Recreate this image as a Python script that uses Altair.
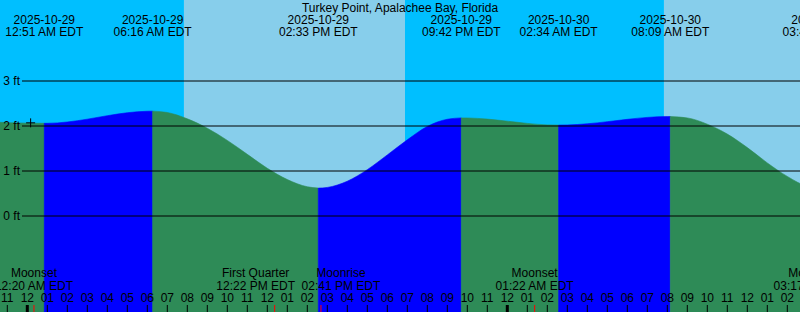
import altair as alt
import pandas as pd

TITLE = "Turkey Point, Apalachee Bay, Florida"
FONT = "Liberation Sans"
W, H = 800, 312
PH = 305  # plot height; hour ticks hang below it

# Tide extremes (local EDT wall-clock) and levels in feet
tide_times = ["2025-10-28 19:30", "2025-10-29 00:51", "2025-10-29 06:16", "2025-10-29 14:33",
              "2025-10-29 21:42", "2025-10-30 02:34", "2025-10-30 08:09", "2025-10-30 15:44"]
tide_levels = [2.14, 2.06, 2.33, 0.62, 2.18, 2.02, 2.21, 0.62]

# Curve heights, every hour
curve_times = ["2025-10-28 20:00", "2025-10-28 21:00", "2025-10-28 22:00", "2025-10-28 23:00",
               "2025-10-29 00:00", "2025-10-29 01:00", "2025-10-29 02:00", "2025-10-29 03:00",
               "2025-10-29 04:00", "2025-10-29 05:00", "2025-10-29 06:00", "2025-10-29 07:00",
               "2025-10-29 08:00", "2025-10-29 09:00", "2025-10-29 10:00", "2025-10-29 11:00",
               "2025-10-29 12:00", "2025-10-29 13:00", "2025-10-29 14:00", "2025-10-29 15:00",
               "2025-10-29 16:00", "2025-10-29 17:00", "2025-10-29 18:00", "2025-10-29 19:00",
               "2025-10-29 20:00", "2025-10-29 21:00", "2025-10-29 22:00", "2025-10-29 23:00",
               "2025-10-30 00:00", "2025-10-30 01:00", "2025-10-30 02:00", "2025-10-30 03:00",
               "2025-10-30 04:00", "2025-10-30 05:00", "2025-10-30 06:00", "2025-10-30 07:00",
               "2025-10-30 08:00", "2025-10-30 09:00", "2025-10-30 10:00", "2025-10-30 11:00",
               "2025-10-30 12:00", "2025-10-30 13:00", "2025-10-30 14:00", "2025-10-30 15:00"]
curve_levels = [2.138, 2.12, 2.095, 2.075,
                2.063, 2.06, 2.089, 2.152,
                2.229, 2.295, 2.328, 2.30,
                2.16, 1.95, 1.68, 1.37,
                1.06, 0.81, 0.65, 0.635,
                0.773, 1.03, 1.357, 1.693,
                1.99, 2.15, 2.179, 2.153,
                2.107, 2.058, 2.025, 2.023,
                2.049, 2.096, 2.148, 2.191,
                2.21, 2.18, 2.04, 1.82,
                1.52, 1.18, 0.88, 0.66]

# Sun: night / day intervals
sky_start = ["2025-10-28 18:54", "2025-10-29 07:50", "2025-10-29 18:53", "2025-10-30 07:50"]
sky_end = ["2025-10-29 07:50", "2025-10-29 18:53", "2025-10-30 07:50", "2025-10-30 18:52"]
sky_kind = ["night", "day", "night", "day"]

# Moon events
moon_names = ["Moonset", "First Quarter", "Moonrise", "Moonset", "Moonrise"]
moon_times = ["2025-10-29 00:20", "2025-10-29 12:22", "2025-10-29 14:41",
              "2025-10-30 01:22", "2025-10-30 15:17"]

# Height grid
grid_ft = [0, 1, 2, 3]
grid_labels = ["0 ft", "1 ft", "2 ft", "3 ft"]

# Hour ticks along the bottom (first and last visible hour)
hour_first, hour_last = "2025-10-28 23:00", "2025-10-30 14:00"

# Current-time marker
now_time = "2025-10-29 00:10"
now_level = 2.07


def iso(ts):
    return pd.Timestamp(ts).strftime("%Y-%m-%dT%H:%M:%SZ")


def clock(ts):
    return pd.Timestamp(ts).strftime("%I:%M %p") + " EDT"


ext = pd.DataFrame({"t": pd.to_datetime(tide_times), "level": tide_levels})
rd = pd.DataFrame({"t": pd.to_datetime(curve_times), "level": curve_levels})
pts = pd.concat([ext, rd]).sort_values("t").drop_duplicates("t").reset_index(drop=True)
rows = []
for i in range(len(ext) - 1):
    a, b = ext.t[i], ext.t[i + 1]
    kind = "rising" if ext.level[i + 1] > ext.level[i] else "falling"
    seg = pts[(pts.t >= a) & (pts.t <= b)]
    for _, r in seg.iterrows():
        rows.append({"t": iso(r.t), "level": r.level, "seg": i, "kind": kind})
curve_df = pd.DataFrame(rows)

ext_df = pd.DataFrame({
    "t": [iso(t) for t in tide_times],
    "date": [pd.Timestamp(t).strftime("%Y-%m-%d") for t in tide_times],
    "clock": [clock(t) for t in tide_times],
})
sky_df = pd.DataFrame({"start": [iso(t) for t in sky_start],
                       "end": [iso(t) for t in sky_end], "kind": sky_kind})
moon_df = pd.DataFrame({"t": [iso(t) for t in moon_times], "name": moon_names,
                        "clock": [clock(t) for t in moon_times]})
grid_df = pd.DataFrame({"ft": grid_ft, "label": grid_labels})
now_df = pd.DataFrame({"t": [iso(now_time)], "level": [now_level]})
hours = pd.date_range(hour_first, hour_last, freq="h")
hour_df = pd.DataFrame({"t": [iso(h) for h in hours],
                        "label": [h.strftime("%I") for h in hours]})

x_scale = alt.Scale(type="utc", domain=[
    alt.DateTime(year=2025, month=10, date=28, hours=22, minutes=38, seconds=6, utc=True),
    alt.DateTime(year=2025, month=10, date=30, hours=14, minutes=38, seconds=6, utc=True)])
# 45 px per foot, 0 ft sits 216 px below the top
y_scale = alt.Scale(domain=[(216 - PH) / 45, 216 / 45], zero=False, nice=False)

sky = alt.Chart(sky_df).mark_rect().encode(
    x=alt.X("start:T", scale=x_scale, axis=None),
    x2="end:T",
    y=alt.value(0), y2=alt.value(H),
    color=alt.Color("kind:N", scale=alt.Scale(domain=["night", "day"],
                                              range=["#00BFFF", "#87CEEB"]), legend=None),
)

tide_colors = alt.Scale(domain=["rising", "falling"], range=["#0000FF", "#2E8B57"])
water = alt.Chart(curve_df).mark_area(interpolate="monotone", strokeWidth=0.6).encode(
    x=alt.X("t:T", scale=x_scale, axis=None),
    y=alt.Y("level:Q", scale=y_scale, axis=None, stack=None),
    y2=alt.value(H),
    detail="seg:N",
    color=alt.Color("kind:N", scale=tide_colors, legend=None),
    stroke=alt.Stroke("kind:N", scale=tide_colors, legend=None),
)

grid = alt.Chart(grid_df).mark_rule(color="black", strokeWidth=1).encode(
    y=alt.Y("ft:Q", scale=y_scale, axis=None),
    x=alt.value(22), x2=alt.value(W),
)
grid_text = alt.Chart(grid_df).mark_text(
    font=FONT, fontSize=12, color="black", align="right", baseline="middle").encode(
    y=alt.Y("ft:Q", scale=y_scale, axis=None),
    x=alt.value(20),
    text="label:N",
)

now_mark = alt.Chart(now_df).mark_point(
    shape="M-1,0H1M0,-1V1", size=81, filled=False, stroke="black", strokeWidth=1,
    opacity=1).encode(
    x=alt.X("t:T", scale=x_scale, axis=None),
    y=alt.Y("level:Q", scale=y_scale, axis=None),
)

hour_ticks = alt.Chart(hour_df).mark_rule(color="black").encode(
    x=alt.X("t:T", scale=x_scale, axis=None),
    y=alt.value(PH), y2=alt.value(H),
    strokeWidth=alt.condition("utchours(datum.t) == 0", alt.value(3), alt.value(1)),
)

moon_ticks = alt.Chart(moon_df).mark_rule(color="red", strokeWidth=1).encode(
    x=alt.X("t:T", scale=x_scale, axis=None),
    y=alt.value(PH), y2=alt.value(H),
)

txt = dict(font=FONT, fontSize=12, color="black", align="center", baseline="alphabetic")

hour_text = alt.Chart(hour_df).mark_text(**txt).encode(
    x=alt.X("t:T", scale=x_scale, axis=None), y=alt.value(302), text="label:N")

title = alt.Chart(pd.DataFrame({"title": [TITLE]})).mark_text(**txt).encode(
    x=alt.value(W / 2), y=alt.value(12), text="title:N")

tide_date = alt.Chart(ext_df).mark_text(**txt).encode(
    x=alt.X("t:T", scale=x_scale, axis=None), y=alt.value(24), text="date:N")
tide_clock = alt.Chart(ext_df).mark_text(**txt).encode(
    x=alt.X("t:T", scale=x_scale, axis=None), y=alt.value(36), text="clock:N")


def moon_label(dx, keep):
    base = alt.Chart(moon_df).transform_filter(keep)
    name = base.mark_text(dx=dx, **txt).encode(
        x=alt.X("t:T", scale=x_scale, axis=None), y=alt.value(277), text="name:N")
    clk = base.mark_text(dx=dx, **txt).encode(
        x=alt.X("t:T", scale=x_scale, axis=None), y=alt.value(289.5), text="clock:N")
    return [name, clk]


# labels pushed apart where they would collide, as in the reference
moon_layers = (
    moon_label(0, "datum.clock != '12:22 PM EDT' && datum.clock != '02:41 PM EDT'")
    + moon_label(-19, "datum.clock == '12:22 PM EDT'")
    + moon_label(20, "datum.clock == '02:41 PM EDT'")
)

chart = alt.layer(
    sky, water, grid, grid_text, now_mark, hour_ticks, moon_ticks, hour_text,
    title, tide_date, tide_clock, *moon_layers
).resolve_scale(color="independent", stroke="independent").properties(
    width=W, height=PH,
    padding={"left": 0, "top": 0, "right": 0, "bottom": H - PH},
    autosize=alt.AutoSizeParams(type="none"),
).configure_view(strokeWidth=0)

chart.save("out.html", embed_options={"renderer": "svg", "actions": False})
